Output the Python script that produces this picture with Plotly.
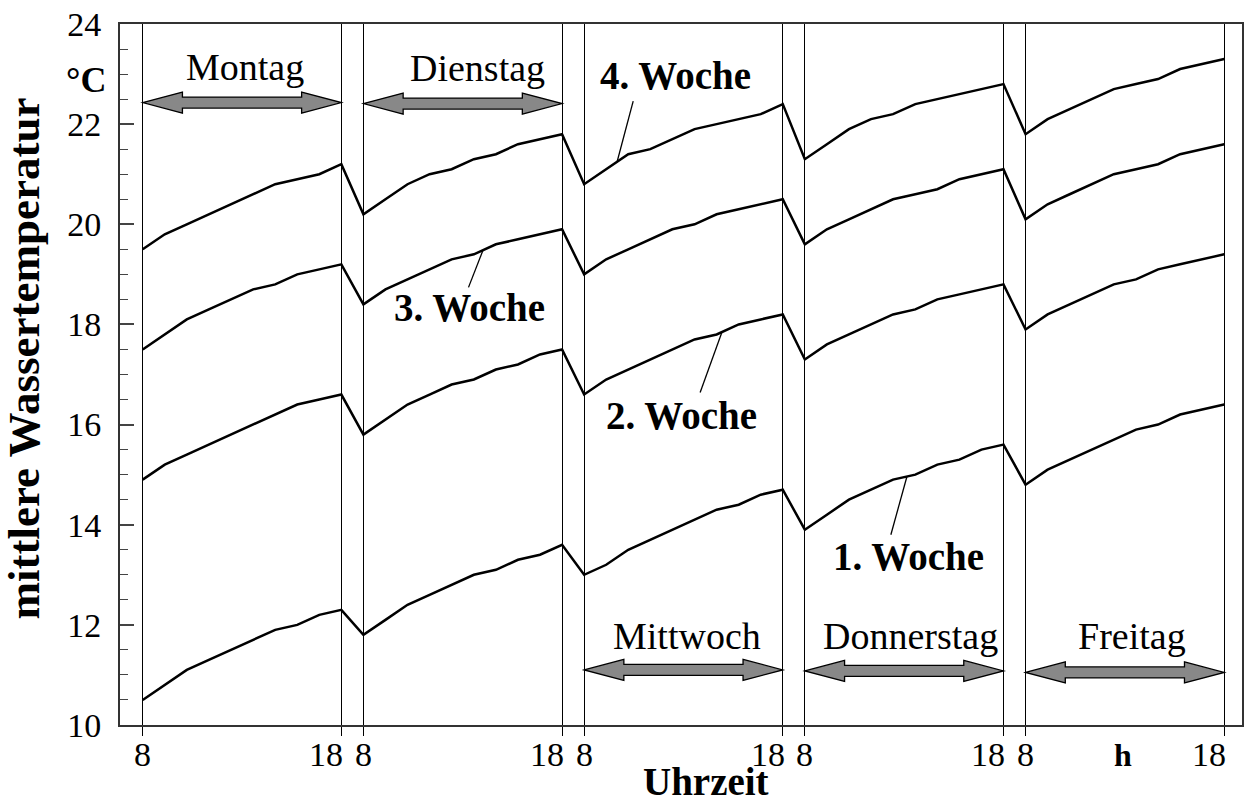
import numpy as np
import plotly.graph_objects as go

# ---------------- data ----------------
days = ["Montag", "Dienstag", "Mittwoch", "Donnerstag", "Freitag"]
sample_hours = [8.0, 9.11, 10.22, 11.33, 12.44, 13.56, 14.67, 15.78, 16.89, 18.0]
x_tick_labels = ["8", "18"]
y_tick_values = [10, 12, 14, 16, 18, 20, 22, 24]

week_names = ["1. Woche", "2. Woche", "3. Woche", "4. Woche"]
week1 = [10.5, 10.8, 11.1, 11.3, 11.5, 11.7, 11.9, 12.0, 12.2, 12.3,
         11.8, 12.1, 12.4, 12.6, 12.8, 13.0, 13.1, 13.3, 13.4, 13.6,
         13.0, 13.2, 13.5, 13.7, 13.9, 14.1, 14.3, 14.4, 14.6, 14.7,
         13.9, 14.2, 14.5, 14.7, 14.9, 15.0, 15.2, 15.3, 15.5, 15.6,
         14.8, 15.1, 15.3, 15.5, 15.7, 15.9, 16.0, 16.2, 16.3, 16.4]
week2 = [14.9, 15.2, 15.4, 15.6, 15.8, 16.0, 16.2, 16.4, 16.5, 16.6,
         15.8, 16.1, 16.4, 16.6, 16.8, 16.9, 17.1, 17.2, 17.4, 17.5,
         16.6, 16.9, 17.1, 17.3, 17.5, 17.7, 17.8, 18.0, 18.1, 18.2,
         17.3, 17.6, 17.8, 18.0, 18.2, 18.3, 18.5, 18.6, 18.7, 18.8,
         17.9, 18.2, 18.4, 18.6, 18.8, 18.9, 19.1, 19.2, 19.3, 19.4]
week3 = [17.5, 17.8, 18.1, 18.3, 18.5, 18.7, 18.8, 19.0, 19.1, 19.2,
         18.4, 18.7, 18.9, 19.1, 19.3, 19.4, 19.6, 19.7, 19.8, 19.9,
         19.0, 19.3, 19.5, 19.7, 19.9, 20.0, 20.2, 20.3, 20.4, 20.5,
         19.6, 19.9, 20.1, 20.3, 20.5, 20.6, 20.7, 20.9, 21.0, 21.1,
         20.1, 20.4, 20.6, 20.8, 21.0, 21.1, 21.2, 21.4, 21.5, 21.6]
week4 = [19.5, 19.8, 20.0, 20.2, 20.4, 20.6, 20.8, 20.9, 21.0, 21.2,
         20.2, 20.5, 20.8, 21.0, 21.1, 21.3, 21.4, 21.6, 21.7, 21.8,
         20.8, 21.1, 21.4, 21.5, 21.7, 21.9, 22.0, 22.1, 22.2, 22.4,
         21.3, 21.6, 21.9, 22.1, 22.2, 22.4, 22.5, 22.6, 22.7, 22.8,
         21.8, 22.1, 22.3, 22.5, 22.7, 22.8, 22.9, 23.1, 23.2, 23.3]
weeks = [week1, week2, week3, week4]

# ---------------- layout helpers ----------------
FONT = "Liberation Serif, Times New Roman, serif"
PERIOD = 10.0 + 10.0 / 9.0      # one day on the axis incl. the night gap


def xpos(day, hour):
    return day * PERIOD + (hour - 8.0)


xs = [xpos(d, h) for d in range(len(days)) for h in sample_hours]

fig = go.Figure()
for name, vals in zip(week_names, weeks):
    fig.add_trace(go.Scatter(x=xs, y=vals, mode="lines", name=name,
                             line=dict(color="black", width=2.5),
                             showlegend=False, hoverinfo="skip"))

tickvals = []
for d in range(len(days)):
    tickvals += [xpos(d, 8), xpos(d, 18)]

annotations = []
shapes = []

# x tick labels (the "18" sits left of its line, the "8" centred)
for d in range(len(days)):
    annotations.append(dict(x=xpos(d, 8), y=0, xref="x", yref="paper",
                            text=x_tick_labels[0], showarrow=False,
                            xanchor="center", yanchor="middle", yshift=-29,
                            font=dict(family=FONT, size=34, color="black")))
    annotations.append(dict(x=xpos(d, 18), y=0, xref="x", yref="paper",
                            text=x_tick_labels[1], showarrow=False,
                            xanchor="right", yanchor="middle", yshift=-29, xshift=4,
                            font=dict(family=FONT, size=34, color="black")))

# day arrows and labels
arrow_y = [22.43, 22.41, 11.1, 11.08, 11.05]
label_pos = [(13.14, 23.14), (13.72, 23.12), (13.18, 11.78), (13.33, 11.78), (13.37, 11.78)]
HL, HH, SH = 2.0, 0.21, 0.11
for d, name in enumerate(days):
    x0, x1, y = xpos(d, 8), xpos(d, 18), arrow_y[d]
    pts = [(x0, y), (x0 + HL, y + HH), (x0 + HL, y + SH), (x1 - HL, y + SH),
           (x1 - HL, y + HH), (x1, y), (x1 - HL, y - HH), (x1 - HL, y - SH),
           (x0 + HL, y - SH), (x0 + HL, y - HH)]
    path = "M " + " L ".join(f"{px:.4f},{py:.4f}" for px, py in pts) + " Z"
    shapes.append(dict(type="path", path=path, xref="x", yref="y",
                       fillcolor="#888888", line=dict(color="black", width=1.3)))
    lh, ly = label_pos[d]
    annotations.append(dict(x=xpos(d, lh), y=ly, xref="x", yref="y", text=name,
                            showarrow=False, xanchor="center", yanchor="middle",
                            font=dict(family=FONT, size=38, color="black")))

# week labels with leader lines: (day, curve hour, line end hour, line end temp, text hour, text temp)
week_label_pos = [
    (3, 13.14, 12.33, 13.80, 13.24, 13.36),
    (2, 14.94, 13.84, 16.64, 12.92, 16.18),
    (1, 14.02, 13.29, 18.74, 13.32, 18.34),
    (2, 9.66, 10.47, 22.46, 12.58, 22.98),
]
for name, vals, (d, ch, eh, ey, th, ty) in zip(week_names, weeks, week_label_pos):
    cx = xpos(d, ch)
    cy = float(np.interp(cx, xs, vals))
    shapes.append(dict(type="line", xref="x", yref="y", x0=cx, y0=cy,
                       x1=xpos(d, eh), y1=ey, line=dict(color="black", width=1.3)))
    annotations.append(dict(x=xpos(d, th), y=ty, xref="x", yref="y", text=f"<b>{name}</b>",
                            showarrow=False, xanchor="center", yanchor="middle",
                            font=dict(family=FONT, size=39, color="black")))

# axis titles and units
annotations += [
    dict(x=0, y=0.5, xref="paper", yref="paper", text="<b>mittlere Wassertemperatur</b>",
         textangle=-90, showarrow=False, xanchor="center", yanchor="middle",
         xshift=-97, yshift=16, font=dict(family=FONT, size=45, color="black")),
    dict(x=0.522, y=0, xref="paper", yref="paper", text="<b>Uhrzeit</b>",
         showarrow=False, xanchor="center", yanchor="middle", yshift=-56,
         font=dict(family=FONT, size=39, color="black")),
    dict(x=0, y=1, xref="paper", yref="paper", text="<b>°C</b>",
         showarrow=False, xanchor="center", yanchor="middle", xshift=-34, yshift=-56,
         font=dict(family=FONT, size=36, color="black")),
    dict(x=xpos(4, 12.91), y=0, xref="x", yref="paper", text="<b>h</b>",
         showarrow=False, xanchor="center", yanchor="middle", yshift=-30,
         font=dict(family=FONT, size=32, color="black")),
]

fig.update_layout(
    width=1248, height=803,
    margin=dict(l=120, r=6, t=24, b=78, autoexpand=False),
    plot_bgcolor="white", paper_bgcolor="white",
    shapes=shapes, annotations=annotations,
    showlegend=False,
)
fig.update_xaxes(
    range=[-1.143, 55.34], tickvals=tickvals, showticklabels=False, automargin=False,
    ticks="outside", ticklen=9, tickcolor="black", tickwidth=1.2,
    showgrid=True, gridcolor="black", gridwidth=1.3, zeroline=False,
    showline=True, linecolor="#333333", linewidth=2, mirror=True,
)
fig.update_yaxes(
    range=[10, 24], tickvals=y_tick_values, ticks="inside", ticklen=14, automargin=False,
    tickcolor="#444444", tickwidth=1.5,
    minor=dict(dtick=0.5, tick0=10, ticks="inside", ticklen=8, tickcolor="#444444",
               tickwidth=1.2, showgrid=False),
    showgrid=False, zeroline=False,
    showline=True, linecolor="#333333", linewidth=2, mirror=True,
    tickfont=dict(family=FONT, size=34, color="black"), ticklabelstandoff=10,
)

fig.write_html("out.html", config={"displayModeBar": False},
               post_script="document.body.style.margin='0';")
